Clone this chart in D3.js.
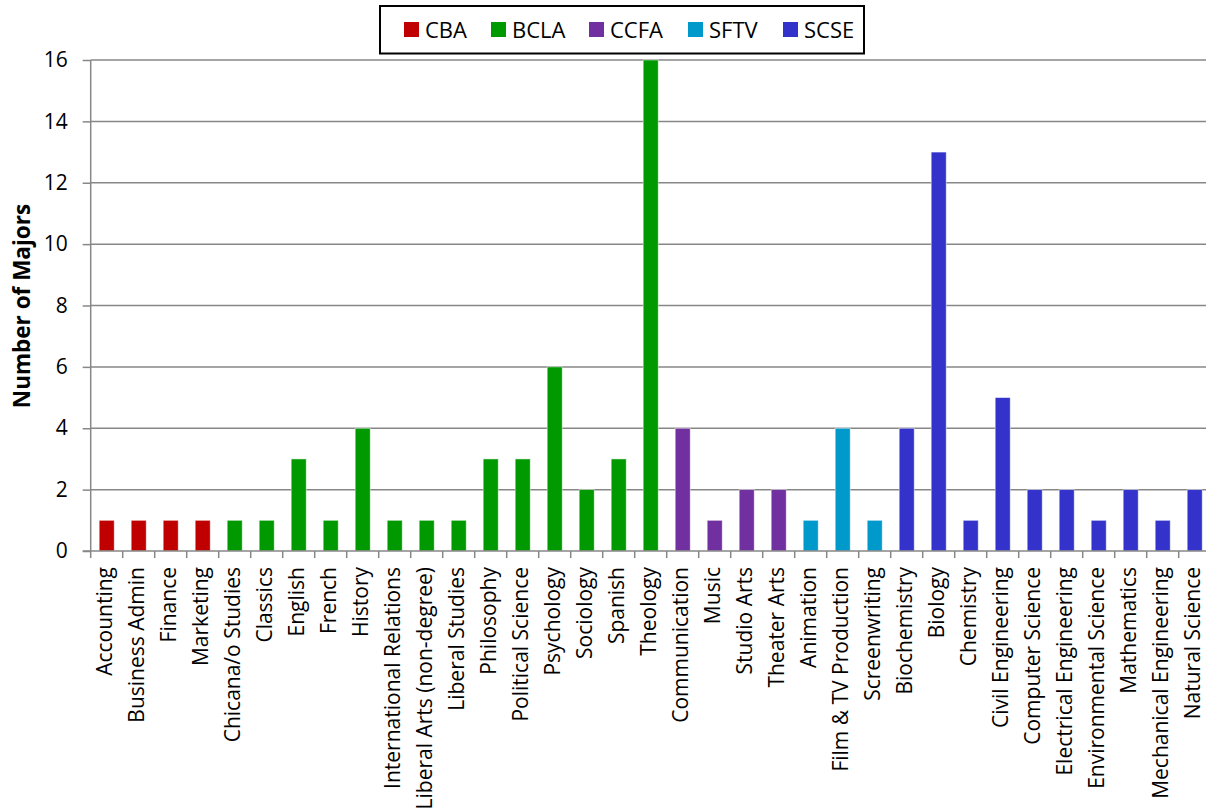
<!DOCTYPE html>
<html>
<head>
<meta charset="utf-8">
<script src="https://cdn.jsdelivr.net/npm/d3@7"></script>
<style>
	body { margin: 0; background: #fff; }
	svg { font-family: "Open Sans", sans-serif; }
</style>
</head>
<body>
<svg id="chart" width="1206" height="809"></svg>
<script>
let majors = [
	"Accounting", "Business Admin", "Finance", "Marketing",
	"Chicana/o Studies", "Classics", "English", "French", "History",
	"International Relations", "Liberal Arts (non-degree)", "Liberal Studies",
	"Philosophy", "Political Science", "Psychology", "Sociology", "Spanish", "Theology",
	"Communication", "Music", "Studio Arts", "Theater Arts",
	"Animation", "Film & TV Production", "Screenwriting",
	"Biochemistry", "Biology", "Chemistry", "Civil Engineering", "Computer Science",
	"Electrical Engineering", "Environmental Science", "Mathematics",
	"Mechanical Engineering", "Natural Science"
];
let counts = [
	1, 1, 1, 1,
	1, 1, 3, 1, 4,
	1, 1, 1,
	3, 3, 6, 2, 3, 16,
	4, 1, 2, 2,
	1, 4, 1,
	4, 13, 1, 5, 2,
	2, 1, 2,
	1, 2
];
let schools = [
	"CBA", "CBA", "CBA", "CBA",
	"BCLA", "BCLA", "BCLA", "BCLA", "BCLA",
	"BCLA", "BCLA", "BCLA",
	"BCLA", "BCLA", "BCLA", "BCLA", "BCLA", "BCLA",
	"CCFA", "CCFA", "CCFA", "CCFA",
	"SFTV", "SFTV", "SFTV",
	"SCSE", "SCSE", "SCSE", "SCSE", "SCSE",
	"SCSE", "SCSE", "SCSE",
	"SCSE", "SCSE"
];
let schoolNames = ["CBA", "BCLA", "CCFA", "SFTV", "SCSE"];
let schoolColors = ["#c00000", "#009900", "#7030a0", "#0099cc", "#3333cc"];
let yTicks = [0, 2, 4, 6, 8, 10, 12, 14, 16];

let svg = d3.select("#chart");
let plotLeft = 90.7, plotTop = 60, plotBottom = 551;
let step = 32;

let x = d3.scaleBand()
	.domain(majors)
	.range([plotLeft, plotLeft + step * majors.length])
	.paddingInner(0.53)
	.paddingOuter(0.265);
let y = d3.scaleLinear().domain([0, 16]).range([plotBottom, plotTop]);
let color = d3.scaleOrdinal().domain(schoolNames).range(schoolColors);

// gridlines
svg.append("g")
	.selectAll("line")
	.data(yTicks.filter(d => d > 0))
	.join("line")
	.attr("x1", plotLeft).attr("x2", 1206)
	.attr("y1", d => y(d)).attr("y2", d => y(d))
	.attr("stroke", "#878787")
	.attr("stroke-width", 1.5);

// bars
svg.append("g")
	.selectAll("rect")
	.data(majors)
	.join("rect")
	.attr("x", d => x(d))
	.attr("width", x.bandwidth())
	.attr("y", (d, i) => y(counts[i]))
	.attr("height", (d, i) => y(0) - y(counts[i]))
	.attr("fill", (d, i) => color(schools[i]))
	.attr("stroke", "#ffffff")
	.attr("stroke-opacity", 0.6)
	.attr("stroke-width", 0.8);

// y axis
let yAxis = svg.append("g")
	.attr("transform", `translate(${plotLeft},0)`)
	.call(d3.axisLeft(y).tickValues(yTicks).tickSize(8).tickPadding(15));
yAxis.select(".domain").attr("stroke", "#878787").attr("stroke-width", 1.5)
	.attr("d", `M0,${plotTop}V${plotBottom}`);
yAxis.selectAll(".tick line").attr("stroke", "#878787").attr("stroke-width", 1.5);
yAxis.selectAll(".tick text")
	.attr("font-size", 21)
	.attr("fill", "#000")
	.attr("font-family", "'Open Sans', sans-serif");

// x axis: ticks between bands
let xAxis = svg.append("g").attr("transform", `translate(0,${plotBottom})`);
xAxis.append("line")
	.attr("x1", plotLeft - 8).attr("x2", 1206)
	.attr("stroke", "#878787").attr("stroke-width", 1.5);
xAxis.selectAll(".sep")
	.data(d3.range(majors.length + 1))
	.join("line")
	.attr("class", "sep")
	.attr("x1", i => plotLeft + i * step).attr("x2", i => plotLeft + i * step)
	.attr("y1", 0).attr("y2", 7)
	.attr("stroke", "#878787").attr("stroke-width", 1.5);
xAxis.selectAll(".lbl")
	.data(majors)
	.join("text")
	.attr("class", "lbl")
	.attr("transform", d => `translate(${x(d) + x.bandwidth() / 2 + 5.5},16) rotate(-90)`)
	.attr("text-anchor", "end")
	.attr("font-size", 21)
	.attr("fill", "#000")
	.text(d => d);

// y title
svg.append("text")
	.attr("transform", `translate(30,306) rotate(-90)`)
	.attr("text-anchor", "middle")
	.attr("font-size", 22.5)
	.attr("font-weight", "bold")
	.text("Number of Majors");

// legend
let legend = svg.append("g");
legend.append("rect")
	.attr("x", 380).attr("y", 6)
	.attr("width", 484).attr("height", 47.5)
	.attr("fill", "#fff")
	.attr("stroke", "#000")
	.attr("stroke-width", 2);
let legendX = [404, 491, 589, 688, 783];
let item = legend.selectAll(".item")
	.data(schoolNames)
	.join("g")
	.attr("class", "item")
	.attr("transform", (d, i) => `translate(${legendX[i]},22)`);
item.append("rect")
	.attr("width", 15).attr("height", 15)
	.attr("fill", d => color(d));
item.append("text")
	.attr("x", 21).attr("y", 15.5)
	.attr("font-size", 22)
	.text(d => d);
</script>
</body>
</html>
